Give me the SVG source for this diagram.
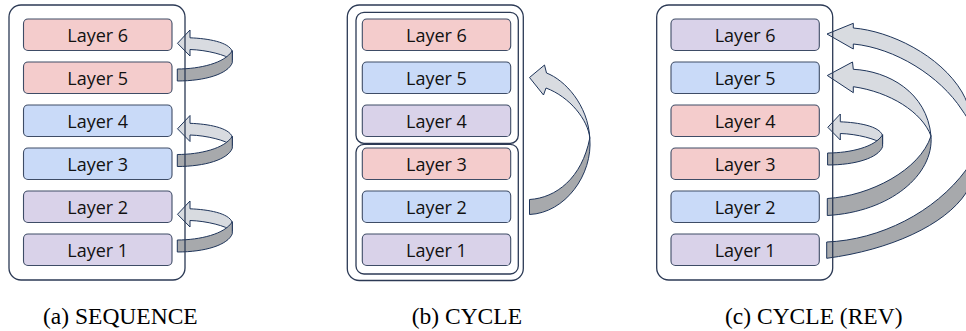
<svg xmlns="http://www.w3.org/2000/svg" width="966" height="331" viewBox="0 0 966 331">
  <defs>
    <style>
      .layer rect { stroke: #3E4C66; stroke-width: 1.1; }
      .layer text { font-family: "Open Sans", "Liberation Sans", sans-serif; font-size: 18px; fill: #111111; text-anchor: middle; }
      .red rect { fill: #F4CCCC; }
      .blue rect { fill: #C9DAF8; }
      .purple rect { fill: #D9D2E9; }
      .frame { fill: none; stroke: #2C3A55; stroke-width: 1.3; }
      .lite { fill: #D8DBE0; stroke: #1F355A; stroke-width: 1; stroke-linejoin: round; }
      .dark { fill: #A7A9AC; stroke: #1F355A; stroke-width: 1; stroke-linejoin: round; }
      .caption { font-family: "Liberation Serif", "Times New Roman", serif; font-size: 23.5px; fill: #000000; }
    </style>
    <!-- short loop arrow: from one layer back to the layer above -->
    <g id="loop">
      <path class="lite" d="M 177.5 43.3 L 190 30 L 190 37.8 C 208 38.5, 229 42, 232.3 51.5 L 232.3 60 C 226 55, 207 50, 190 49.5 L 190 56 Z"/>
      <path class="dark" d="M 177.3 69 C 200 69, 225 63, 232.3 50.7 L 232.3 62.7 C 228 74, 205 81, 177.3 81 Z"/>
    </g>
  </defs>

  <!-- (a) SEQUENCE -->
  <g id="a-layer6" class="layer red"><rect x="23.5" y="19" width="148.5" height="31.5" rx="4.5"/><text x="97.75" y="42.3">Layer 6</text></g>
  <g id="a-layer5" class="layer red"><rect x="23.5" y="62" width="148.5" height="31.5" rx="4.5"/><text x="97.75" y="85.3">Layer 5</text></g>
  <g id="a-layer4" class="layer blue"><rect x="23.5" y="105" width="148.5" height="31.5" rx="4.5"/><text x="97.75" y="128.3">Layer 4</text></g>
  <g id="a-layer3" class="layer blue"><rect x="23.5" y="148" width="148.5" height="31.5" rx="4.5"/><text x="97.75" y="171.3">Layer 3</text></g>
  <g id="a-layer2" class="layer purple"><rect x="23.5" y="191" width="148.5" height="31.5" rx="4.5"/><text x="97.75" y="214.3">Layer 2</text></g>
  <g id="a-layer1" class="layer purple"><rect x="23.5" y="234" width="148.5" height="31.5" rx="4.5"/><text x="97.75" y="257.3">Layer 1</text></g>

  <!-- (b) CYCLE -->
  <g id="b-layer6" class="layer red"><rect x="362.3" y="19" width="148.4" height="31.5" rx="4.5"/><text x="436.5" y="42.3">Layer 6</text></g>
  <g id="b-layer5" class="layer blue"><rect x="362.3" y="62" width="148.4" height="31.5" rx="4.5"/><text x="436.5" y="85.3">Layer 5</text></g>
  <g id="b-layer4" class="layer purple"><rect x="362.3" y="105" width="148.4" height="31.5" rx="4.5"/><text x="436.5" y="128.3">Layer 4</text></g>
  <g id="b-layer3" class="layer red"><rect x="362.3" y="148" width="148.4" height="31.5" rx="4.5"/><text x="436.5" y="171.3">Layer 3</text></g>
  <g id="b-layer2" class="layer blue"><rect x="362.3" y="191" width="148.4" height="31.5" rx="4.5"/><text x="436.5" y="214.3">Layer 2</text></g>
  <g id="b-layer1" class="layer purple"><rect x="362.3" y="234" width="148.4" height="31.5" rx="4.5"/><text x="436.5" y="257.3">Layer 1</text></g>

  <!-- (c) CYCLE (REV) -->
  <g id="c-layer6" class="layer purple"><rect x="671" y="19" width="148.3" height="31.5" rx="4.5"/><text x="745.15" y="42.3">Layer 6</text></g>
  <g id="c-layer5" class="layer blue"><rect x="671" y="62" width="148.3" height="31.5" rx="4.5"/><text x="745.15" y="85.3">Layer 5</text></g>
  <g id="c-layer4" class="layer red"><rect x="671" y="105" width="148.3" height="31.5" rx="4.5"/><text x="745.15" y="128.3">Layer 4</text></g>
  <g id="c-layer3" class="layer red"><rect x="671" y="148" width="148.3" height="31.5" rx="4.5"/><text x="745.15" y="171.3">Layer 3</text></g>
  <g id="c-layer2" class="layer blue"><rect x="671" y="191" width="148.3" height="31.5" rx="4.5"/><text x="745.15" y="214.3">Layer 2</text></g>
  <g id="c-layer1" class="layer purple"><rect x="671" y="234" width="148.3" height="31.5" rx="4.5"/><text x="745.15" y="257.3">Layer 1</text></g>

  <!-- ribbon arrows -->
  <g id="connectors">
    <use href="#loop"/>
    <use href="#loop" transform="translate(0,85.5)"/>
    <use href="#loop" transform="translate(0,171)"/>

    <g id="b-arrow">
      <path class="lite" d="M 529.5 77.5 L 544.5 65 L 546.5 73 C 565 80, 588 105, 589.8 138 C 588 120, 570 97, 546 88 L 543.5 95 Z"/>
      <path class="dark" d="M 529.5 199.5 C 556 198, 582 178, 589.8 138 C 593 175, 565 213, 529.5 214.5 Z"/>
    </g>

    <use href="#loop" transform="translate(650.3,84)"/>

    <g id="c-arrow-2to5">
      <path class="lite" d="M 827.3 75.5 L 852.5 62 L 853.3 69.3 C 888 71, 927 92, 931 136 C 922 112, 890 92, 853.3 86.7 L 853.3 92.7 Z"/>
      <path class="dark" d="M 827.3 198.5 C 870 196, 920 170, 931 136 C 934 175, 890 212, 827.3 215.5 Z"/>
    </g>
    <g id="c-arrow-1to6">
      <path class="lite" d="M 827 34 L 853.3 23.3 L 853.3 28 C 890 31, 940 55, 962 92 C 970 106, 975 125, 975 140 C 974 128, 969 120, 962 110 C 940 76, 895 48, 853.3 44 L 853.3 49 Z"/>
      <path class="dark" d="M 826.7 242 C 880 240, 935 212, 966 170 C 971 162, 975 150, 975 140 C 976 160, 972 180, 966 193 C 945 225, 890 250, 826.7 258.3 Z"/>
    </g>
  </g>

  <!-- panel frames -->
  <g id="frame-a"><rect class="frame" x="9" y="5" width="176" height="275" rx="12"/></g>
  <g id="frame-b">
    <rect class="frame" x="347.3" y="5" width="176" height="275.5" rx="12"/>
    <rect class="frame" x="356" y="12.3" width="162.3" height="131" rx="8"/>
    <rect class="frame" x="356" y="144.3" width="162.3" height="129.7" rx="8"/>
  </g>
  <g id="frame-c"><rect class="frame" x="656.7" y="5" width="176" height="275" rx="12"/></g>

  <!-- captions -->
  <text class="caption" x="43" y="324">(a) SEQUENCE</text>
  <text class="caption" x="411.7" y="324">(b) CYCLE</text>
  <text class="caption" x="725" y="324">(c) CYCLE (REV)</text>
</svg>
